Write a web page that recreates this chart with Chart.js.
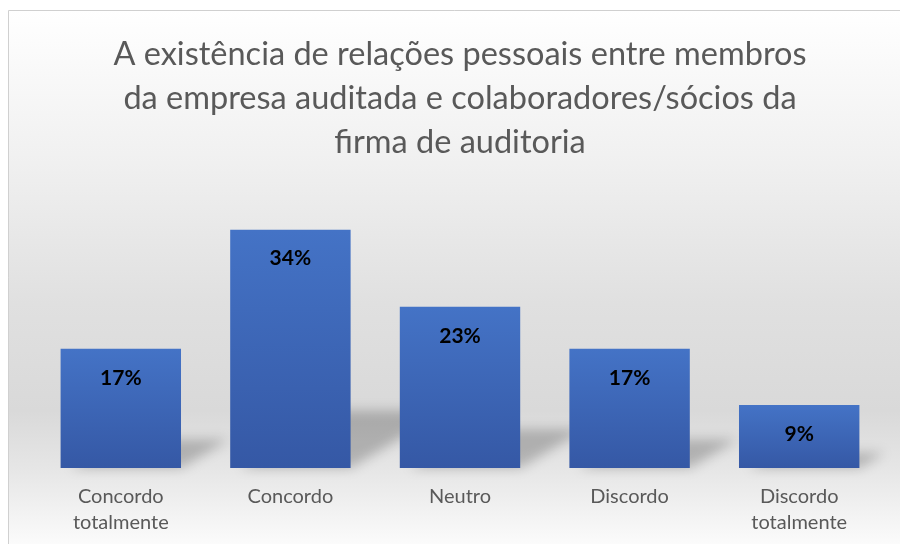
<!DOCTYPE html>
<html>
<head>
<meta charset="utf-8">
<script src="https://cdn.jsdelivr.net/npm/chart.js@4.4.1/dist/chart.umd.min.js"></script>
<style>
  html, body { margin: 0; padding: 0; background: #ffffff; }
  #wrap { width: 900px; height: 544px; }
</style>
</head>
<body>
<div id="wrap"><canvas id="chart" width="900" height="544"></canvas></div>
<script>
// chart data
const categories = [["Concordo", "totalmente"], "Concordo", "Neutro", "Discordo", ["Discordo", "totalmente"]];
const percentages = [17, 34, 23, 17, 9];
const titleLines = [
  "A existência de relações pessoais entre membros",
  "da empresa auditada e colaboradores/sócios da",
  "firma de auditoria"
];

const FONT = "Lato, 'Open Sans', sans-serif";

// gray gradient background + thin border, like the office chart area
const backgroundPlugin = {
  id: "bg",
  beforeDraw(chart) {
    const { ctx, width, height } = chart;
    ctx.save();
    const g = ctx.createLinearGradient(0, 10, 0, height);
    g.addColorStop(0, "#ffffff");
    g.addColorStop(0.27, "#f1f1f1");
    g.addColorStop(0.55, "#e0e0e0");
    g.addColorStop(0.75, "#d9d9d9");
    g.addColorStop(0.86, "#e6e6e6");
    g.addColorStop(1, "#fbfbfb");
    ctx.fillStyle = g;
    ctx.fillRect(8, 10, width - 8, height - 10);
    ctx.strokeStyle = "#d0d0d0";
    ctx.lineWidth = 1;
    ctx.beginPath();
    ctx.moveTo(8.5, height);
    ctx.lineTo(8.5, 10.5);
    ctx.lineTo(width, 10.5);
    ctx.stroke();
    ctx.restore();
  },
};

// soft perspective shadow behind each bar
const shadowPlugin = {
  id: "barShadow",
  beforeDatasetsDraw(chart) {
    const { ctx } = chart;
    const meta = chart.getDatasetMeta(0);
    ctx.save();
    ctx.filter = "blur(6px)";
    ctx.fillStyle = "rgba(0,0,0,0.22)";
    meta.data.forEach((bar) => {
      const h = bar.base - bar.y;
      const left = bar.x - bar.width / 2;
      const right = bar.x + bar.width / 2;
      const dx = h * 0.4;
      const dy = h * 0.24;
      ctx.beginPath();
      ctx.moveTo(left + 10, bar.base);
      ctx.lineTo(right, bar.base);
      ctx.lineTo(right + dx, bar.base - dy);
      ctx.lineTo(left + 10 + dx, bar.base - dy);
      ctx.closePath();
      ctx.fill();
    });
    ctx.restore();
  },
};

// value labels inside the top of the bars
const valueLabelPlugin = {
  id: "valueLabels",
  afterDatasetsDraw(chart) {
    const { ctx } = chart;
    const meta = chart.getDatasetMeta(0);
    ctx.save();
    ctx.font = "bold 21px " + FONT;
    ctx.fillStyle = "#000000";
    ctx.textAlign = "center";
    ctx.textBaseline = "middle";
    meta.data.forEach((bar, i) => {
      ctx.fillText(percentages[i] + "%", bar.x, bar.y + 29);
    });
    ctx.restore();
  },
};

function barGradient(context) {
  const chart = context.chart;
  const y = chart.scales.y;
  if (!chart.chartArea || !y) return "#3f68b8";
  const v = percentages[context.dataIndex];
  const top = y.getPixelForValue(v);
  const bottom = y.getPixelForValue(0);
  const g = chart.ctx.createLinearGradient(0, top, 0, bottom);
  g.addColorStop(0, "#4473c6");
  g.addColorStop(1, "#3558a5");
  return g;
}

new Chart(document.getElementById("chart"), {
  type: "bar",
  data: {
    labels: categories,
    datasets: [
      {
        data: percentages,
        backgroundColor: barGradient,
        borderWidth: 0,
        categoryPercentage: 0.71,
        barPercentage: 1,
      },
    ],
  },
  options: {
    responsive: false,
    animation: false,
    layout: { padding: { left: 36, right: 16, top: 0, bottom: 0 } },
    plugins: {
      legend: { display: false },
      tooltip: { enabled: false },
      title: {
        display: true,
        text: titleLines,
        color: "#595959",
        font: { family: FONT, size: 32.5, weight: "normal", lineHeight: 1.36 },
        padding: { top: 32, bottom: 23 },
      },
    },
    scales: {
      x: {
        grid: { display: false },
        border: { display: false },
        ticks: {
          color: "#595959",
          font: { family: FONT, size: 20, lineHeight: 1.3 },
          padding: 8,
          maxRotation: 0,
        },
      },
      y: {
        display: false,
        min: 0,
        max: 40,
      },
    },
  },
  plugins: [backgroundPlugin, shadowPlugin, valueLabelPlugin],
});
</script>
</body>
</html>
